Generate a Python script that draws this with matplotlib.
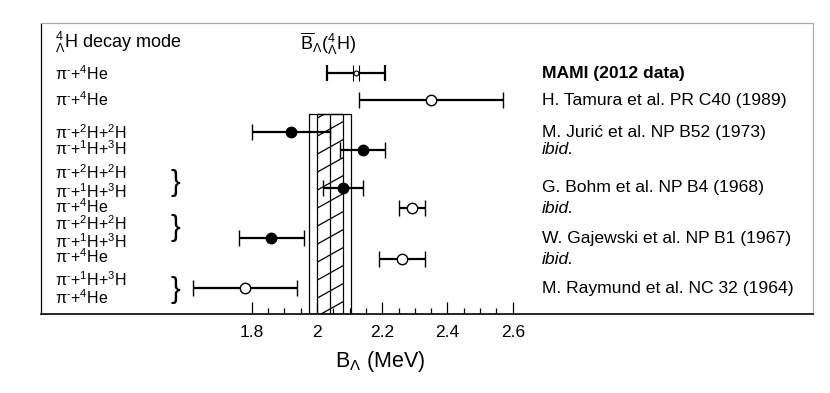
import numpy as np
import matplotlib
matplotlib.use('Agg')
import matplotlib.pyplot as plt
from matplotlib.patches import Rectangle

plt.rcParams['font.family'] = ['Liberation Sans', 'DejaVu Sans']
plt.rcParams['mathtext.fontset'] = 'custom'
plt.rcParams['mathtext.rm'] = 'Liberation Sans'
plt.rcParams['mathtext.it'] = 'Liberation Sans:italic'
plt.rcParams['mathtext.bf'] = 'Liberation Sans:bold'
plt.rcParams['mathtext.sf'] = 'Liberation Sans'

# ---------------- data ----------------
references = ["MAMI (2012 data)", "H. Tamura et al. PR C40 (1989)",
              "M. Jurić et al. NP B52 (1973)", "ibid.",
              "G. Bohm et al. NP B4 (1968)", "ibid.",
              "W. Gajewski et al. NP B1 (1967)", "ibid.",
              "M. Raymund et al. NC 32 (1964)"]
ref_styles = ["bold", "normal", "normal", "italic", "normal", "italic",
              "normal", "italic", "normal"]
b_lambda = [2.12, 2.35, 1.92, 2.14, 2.08, 2.29, 1.86, 2.26, 1.78]
b_err = [0.09, 0.22, 0.12, 0.07, 0.06, 0.04, 0.10, 0.07, 0.16]
filled = [False, False, True, True, True, False, True, False, False]
mami_stat_err = 0.01

mean_b = 2.04
mean_stat_err = 0.04
mean_tot_err = 0.065

m_44He = "π$^{\u2010}$+$^{4}$He"
m_22 = "π$^{\u2010}$+$^{2}$H+$^{2}$H"
m_13 = "π$^{\u2010}$+$^{1}$H+$^{3}$H"
decay_modes = [m_44He, m_44He, m_22, m_13, m_22, m_13, m_44He,
               m_22, m_13, m_44He, m_13, m_44He]

xticks = [1.8, 2.0, 2.2, 2.4, 2.6]
xtick_labels = ["1.8", "2", "2.2", "2.4", "2.6"]

# ---------------- layout (vertical positions, px from top of frame) -------
row_y = [50.3, 77, 109.3, 127, 164.7, 185.3, 215.3, 236.3, 265.3]
mode_y = [50.3, 77, 110, 125.5, 150, 168.5, 184, 201, 218.5, 234, 256.5, 274.5]
brace_y = [160.3, 205.3, 267]
band_top = 91.3
y_bottom = 291

fig = plt.figure(figsize=(8.3, 3.93), dpi=100)
ax = fig.add_axes([41/830, 1-314/393, 772/830, 291/393])
ax.set_xlim(1.1542, 3.5205)
ax.set_ylim(y_bottom, 0)

# band
outer = Rectangle((mean_b - mean_tot_err, band_top), 2*mean_tot_err,
                  y_bottom - band_top, fill=False, ec='black', lw=0.9, zorder=2)
ax.add_patch(outer)
inner = Rectangle((mean_b - mean_stat_err, band_top), 2*mean_stat_err,
                  y_bottom - band_top, fill=False, ec='black', lw=0.9, zorder=2)
ax.add_patch(inner)
ax.plot([mean_b, mean_b], [band_top, y_bottom], color='black', lw=0.9, zorder=2)
# hatch lines
px_per_mev = 772 / (3.5205 - 1.1542)
rise = 0.56 * (2*mean_stat_err) * px_per_mev
spacing = 18
x0, x1 = mean_b - mean_stat_err, mean_b + mean_stat_err
for y0 in np.arange(band_top + 4, y_bottom + rise + spacing, spacing):
    ln, = ax.plot([x0, x1], [y0, y0 - rise], color='black', lw=0.9, zorder=2)
    ln.set_clip_path(inner)

# data points
for i, (v, e, f, y) in enumerate(zip(b_lambda, b_err, filled, row_y)):
    if i == 0:
        ax.errorbar(v, y, xerr=e, fmt='none', ecolor='black', elinewidth=1.6,
                    capsize=5.5, capthick=1.6, zorder=3)
        ax.errorbar(v, y, xerr=mami_stat_err, fmt='o', color='black', mfc='white',
                    mec='black', ms=3.5, mew=0.8, elinewidth=1.6,
                    capsize=5.5, capthick=1.6, zorder=4)
    else:
        ax.errorbar(v, y, xerr=e, fmt='o', color='black',
                    mfc='black' if f else 'white', mec='black', ms=7.5, mew=1.0,
                    elinewidth=1.6, capsize=5.5, capthick=1.6, zorder=4)

# texts
ytr = ax.get_yaxis_transform()
ax.text(0.018, 19.5, r"${}^{4}_{\Lambda}$H decay mode", transform=ytr,
        fontsize=13, va='center', ha='left')
ax.text(0.3355, 21, r"$\overline{\mathrm{B}}_{\Lambda}$(${}^{4}_{\Lambda}$H)",
        transform=ytr, fontsize=13, va='center', ha='left')
for lab, y in zip(decay_modes, mode_y):
    ax.text(0.018, y, lab, transform=ytr, fontsize=11.5, va='center', ha='left')
for y in brace_y:
    ax.text(0.1736, y, "}", transform=ytr, fontsize=21, va='center', ha='center')
for lab, st, y in zip(references, ref_styles, row_y):
    kw = {}
    if st == 'bold':
        kw['fontweight'] = 'bold'
    elif st == 'italic':
        kw['fontstyle'] = 'italic'
    ax.text(0.6486, y, lab, transform=ytr, fontsize=12.6, va='center', ha='left', **kw)

# axes styling
ax.set_yticks([])
ax.set_xticks(xticks)
ax.set_xticklabels(xtick_labels)
ax.set_xticks(np.arange(1.8, 2.6001, 0.05), minor=True)
ax.tick_params(axis='x', which='major', direction='in', length=9, width=0.9,
               labelsize=12.5, pad=8)
ax.tick_params(axis='x', which='minor', direction='in', length=4.5, width=0.9)
ax.set_xlabel(r"B$_{\Lambda}$ (MeV)", fontsize=15.5)
ax.xaxis.set_label_coords(0.439, -0.12)
ax.spines['left'].set_color('black')
ax.spines['left'].set_linewidth(0.9)
ax.spines['bottom'].set_color('black')
ax.spines['bottom'].set_linewidth(1.2)
ax.spines['top'].set_color('#a8a8a8')
ax.spines['top'].set_linewidth(0.9)
ax.spines['right'].set_color('#a8a8a8')
ax.spines['right'].set_linewidth(0.9)

fig.savefig('out.png', dpi=100)
